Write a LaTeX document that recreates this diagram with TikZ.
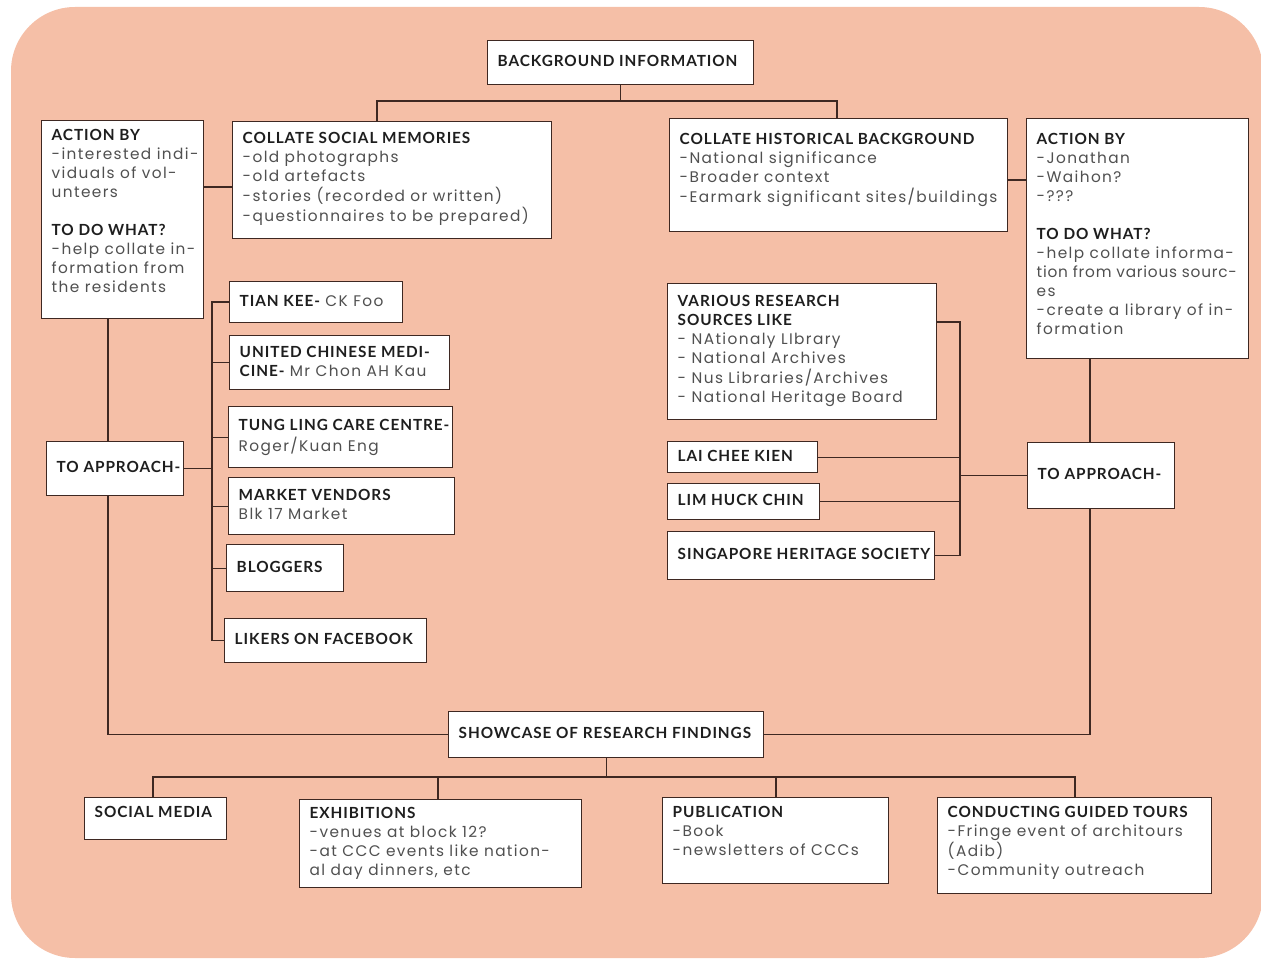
\documentclass[tikz,border=0pt]{standalone}
\usepackage{fontspec}
\usetikzlibrary{calc}
\setmainfont{Poppins}
\newfontfamily\bodyf[LetterSpace=9]{Poppins}
\newfontfamily\bodyn[LetterSpace=5]{Poppins}
\newfontfamily\headf[LetterSpace=6]{Lato}
\definecolor{peach}{RGB}{245,191,167}
\definecolor{ink}{RGB}{62,40,34}
\definecolor{txt}{RGB}{80,80,80}
\definecolor{htxt}{RGB}{30,30,30}
\newdimen\pxu \pxu=0.75pt
\newcommand\hd[1]{{\headf\bfseries\color{htxt}#1}}
\newcommand\bx[8]{\node[box,anchor=north west] (#1) at (#2,#3) {\parbox[c][\dimexpr #5\pxu-15pt\relax][#7]{\dimexpr #4\pxu-15pt\relax}{\vspace*{#8}\noindent\begin{tabular}[t]{@{}l@{}}#6\end{tabular}}};}
\tikzset{
  box/.style={draw=ink, line width=1.1pt, fill=white, inner xsep=7.5pt, inner ysep=7.5pt,
    font=\bodyf\fontsize{11.5}{14.25}\selectfont, text=txt},
  conn/.style={draw=ink, line width=1.1pt}
}
\begin{document}
\begin{tikzpicture}[x=0.75pt,y=-0.75pt]
\useasboundingbox (0,0) rectangle (1261,959);
\fill[peach, rounded corners=48pt] (11,7) rectangle (1263,958);

\bx{bg}{487}{40}{266}{44}{\hd{BACKGROUND INFORMATION}}{c}{0pt}
\bx{sm}{232}{121}{319}{117}{\hd{COLLATE SOCIAL MEMORIES}\\ -old photographs\\ -old artefacts\\ -stories (recorded or written)\\ -questionnaires to be prepared)}{t}{-1pt}
\bx{hb}{669}{118}{338}{113}{\hd{COLLATE HISTORICAL BACKGROUND}\\ -National significance\\ -Broader context\\ -Earmark significant sites/buildings}{t}{1.5pt}
\bx{al}{41}{120}{162}{198}{\hd{ACTION BY}\\ -interested indi-\\ viduals of vol-\\ unteers\\[14.25pt] \hd{TO DO WHAT?}\\ -help collate in-\\ formation from\\ the residents}{t}{-3pt}
\bx{ar}{1026}{118}{222}{240}{\hd{ACTION BY}\\ -Jonathan\\ -Waihon?\\ -???\\[14.25pt] \hd{TO DO WHAT?}\\ -help collate informa-\\ {\bodyn tion from various sourc-}\\ es\\ -create a library of in-\\ formation}{t}{1.5pt}
\bx{tal}{46}{441}{137}{54}{\hd{TO APPROACH-}}{c}{0pt}
\bx{tk}{229}{281}{173}{41}{\hd{TIAN KEE-} CK Foo}{c}{0pt}
\bx{uc}{229}{335}{220}{54}{\hd{UNITED CHINESE MEDI-}\\ \hd{CINE-} Mr Chon AH Kau}{c}{0pt}
\bx{tl}{228}{406}{224}{61}{\hd{TUNG LING CARE CENTRE-}\\ Roger/Kuan Eng}{c}{0pt}
\bx{mv}{228}{477}{226}{57}{\hd{MARKET VENDORS}\\ Blk 17 Market}{c}{0pt}
\bx{bl}{226}{544}{117}{47}{\hd{BLOGGERS}}{c}{0pt}
\bx{lf}{224}{618}{202}{44}{\hd{LIKERS ON FACEBOOK}}{c}{0pt}
\bx{vr}{667}{283}{269}{136}{\hd{VARIOUS RESEARCH}\\ \hd{SOURCES LIKE}\\ - NAtionaly LIbrary\\ - National Archives\\ - Nus Libraries/Archives\\ - National Heritage Board}{t}{-0.5pt}
\bx{lc}{667}{441}{150}{31}{\hd{LAI CHEE KIEN}}{c}{0pt}
\bx{lh}{667}{483}{152}{36}{\hd{LIM HUCK CHIN}}{c}{0pt}
\bx{sh}{667}{531}{267}{48}{\hd{SINGAPORE HERITAGE SOCIETY}}{c}{0pt}
\bx{tar}{1027}{442}{147}{66}{\hd{TO APPROACH-}}{c}{0pt}
\bx{sc}{448}{711}{315}{46}{\hd{SHOWCASE OF RESEARCH FINDINGS}}{c}{0pt}
\bx{smd}{84}{797}{142}{42}{\hd{SOCIAL MEDIA}}{t}{-2.5pt}
\bx{ex}{299}{799}{282}{88}{\hd{EXHIBITIONS}\\ -venues at block 12?\\ -at CCC events like nation-\\ al day dinners, etc}{t}{-3.5pt}
\bx{pb}{662}{797}{226}{86}{\hd{PUBLICATION}\\ -Book\\ -newsletters of CCCs}{t}{-2.5pt}
\bx{ct}{937}{797}{274}{96}{\hd{CONDUCTING GUIDED TOURS}\\ -Fringe event of architours\\ (Adib)\\ -Community outreach}{t}{-2.5pt}

% top tree
\draw[conn] (bg.south) -- ++(0,17);
\draw[conn] ($(sm.north west)+(145,0)$) -- ++(0,-20) -| ($(hb.north west)+(168,0)$);
\draw[conn] ($(al.north east)+(0,67)$) -- ($(sm.north west)+(0,66)$);
\draw[conn] ($(hb.north east)+(0,62)$) -- ($(ar.north west)+(0,62)$);

% left column
\coordinate (pl) at ($(al.south west)+(67,0)$);
\draw[conn] (pl) -- (pl |- tal.north);
\draw[conn] (pl |- tal.south) |- (sc.west);
\coordinate (spn) at (212,0);
\draw[conn] (tal.east) -- (tal.east -| spn);
\draw[conn] (tk.west) -- (tk.west -| spn) -- (lf.west -| spn) -- (lf.west);
\foreach \n in {uc,tl,mv,bl} \draw[conn] (\n.west) -- (\n.west -| spn);

% right column
\coordinate (spr) at (960,0);
\coordinate (vrb) at ($(vr.north east)+(0,39)$);
\draw[conn] (vrb) -- (vrb -| spr) -- (sh.east -| spr) -- (sh.east);
\foreach \n in {lc,lh} \draw[conn] (\n.east) -- (\n.east -| spr);
\draw[conn] (tar.west) -- (tar.west -| spr);
\coordinate (pr) at ($(tar.north west)+(63,0)$);
\draw[conn] (pr) -- (pr |- ar.south);
\draw[conn] (pr |- tar.south) |- (sc.east);

% bottom tree
\draw[conn] (sc.south) -- ++(0,20);
\draw[conn] ($(smd.north west)+(69,0)$) -- ++(0,-20) -| ($(ct.north west)+(138,0)$);
\draw[conn] ($(ex.north west)+(139,0)$) -- ++(0,-22);
\draw[conn] ($(pb.north west)+(114,0)$) -- ++(0,-20);
\end{tikzpicture}
\end{document}
